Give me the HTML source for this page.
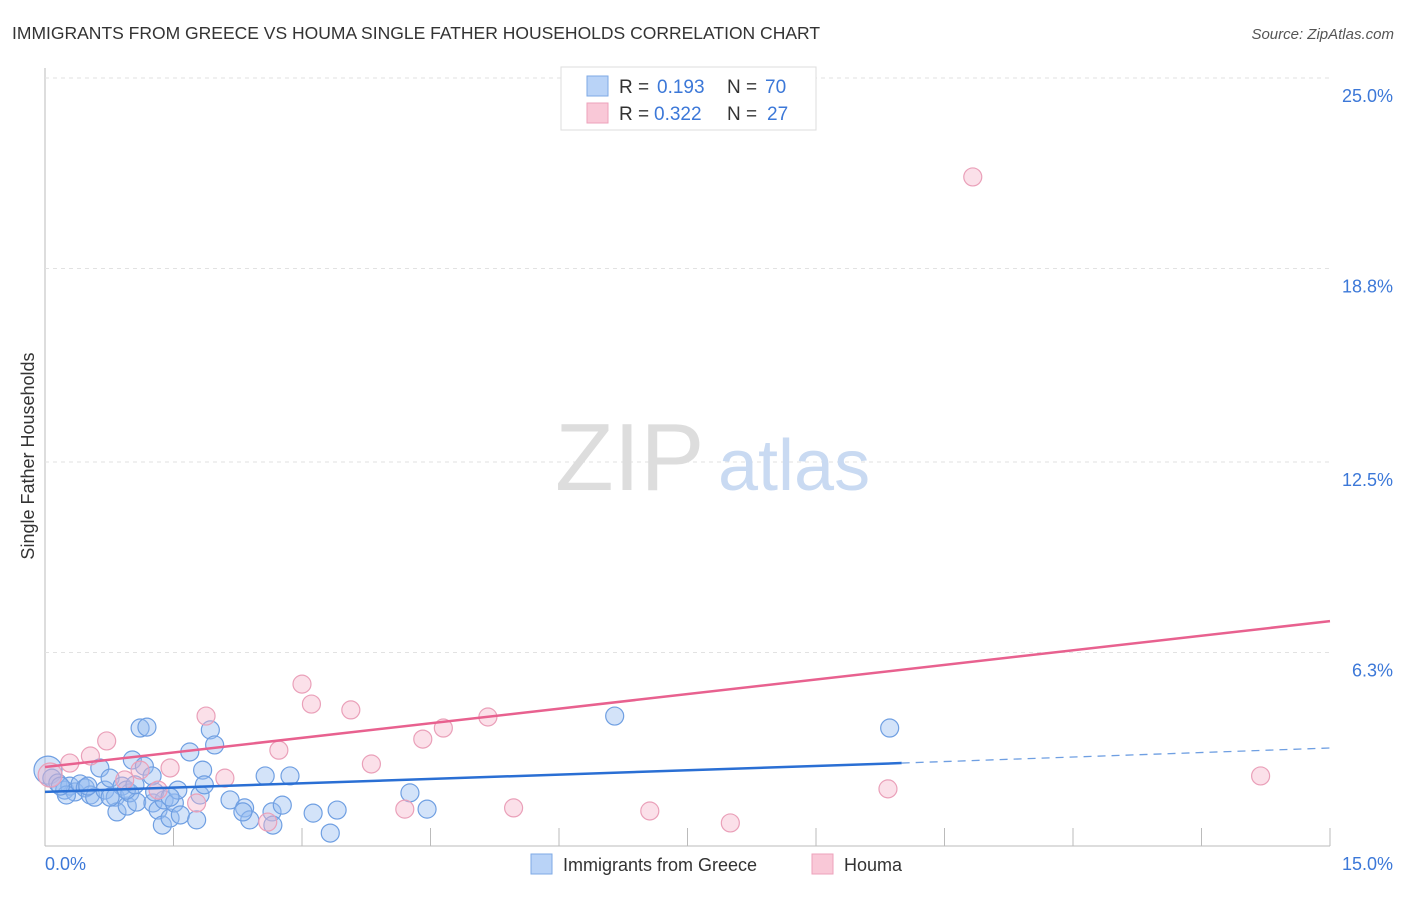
<!DOCTYPE html>
<html><head><meta charset="utf-8"><style>
body{margin:0;background:#fff;font-family:"Liberation Sans",sans-serif;}
svg text{font-family:"Liberation Sans",sans-serif;}
</style></head><body>
<svg width="1406" height="892" viewBox="0 0 1406 892">
<text x="12" y="39" font-size="17.5" fill="#333">IMMIGRANTS FROM GREECE VS HOUMA SINGLE FATHER HOUSEHOLDS CORRELATION CHART</text>
<text x="1394" y="39" font-size="15" fill="#555" font-style="italic" text-anchor="end">Source: ZipAtlas.com</text>
<g id="grid"></g>
<text x="555" y="490" font-size="96" font-family="Liberation Serif" fill="#ddd">ZIP</text>
<text x="718" y="490" font-size="72" fill="#c9daf2">atlas</text>
<text transform="translate(34,456) rotate(-90)" font-size="18" fill="#333" text-anchor="middle">Single Father Households</text>
<g id="lines"></g>
<g id="points"></g>
<g>
<rect x="561" y="67" width="255" height="63" fill="#fff" stroke="#ddd"/>
<rect x="587" y="76" width="21" height="20" fill="#b9d3f7" stroke="#7ea9e6"/>
<text x="619" y="93" font-size="19" fill="#333">R = </text><text x="657" y="93" font-size="19" fill="#3c78d8">0.193</text>
<text x="727" y="93" font-size="19" fill="#333">N = </text><text x="765" y="93" font-size="19" fill="#3c78d8">70</text>
<rect x="587" y="103" width="21" height="20" fill="#f9c8d7" stroke="#eda2bb"/>
<text x="619" y="120" font-size="19" fill="#333">R = </text><text x="654" y="120" font-size="19" fill="#3c78d8">0.322</text>
<text x="727" y="120" font-size="19" fill="#333">N = </text><text x="767" y="120" font-size="19" fill="#3c78d8">27</text>
</g>
<g>
<rect x="531" y="854" width="21" height="20" fill="#b9d3f7" stroke="#7ea9e6"/>
<text x="563" y="871" font-size="18" fill="#333">Immigrants from Greece</text>
<rect x="812" y="854" width="21" height="20" fill="#f9c8d7" stroke="#eda2bb"/>
<text x="844" y="871" font-size="18" fill="#333">Houma</text>
</g>
</svg>
<script>
const yTicks=[25.0,18.8,12.5,6.3];
const yTickLabels=["25.0%","18.8%","12.5%","6.3%"];
const xEndLabels=["0.0%","15.0%"];
const blueX=[0.035,0.08,0.15,0.23,0.29,0.35,0.41,0.47,0.53,0.58,0.64,0.70,0.76,0.82,0.84,0.90,0.96,0.99,1.02,1.07,1.11,1.19,1.16,1.25,1.26,1.32,1.37,1.39,1.46,1.51,1.55,1.58,1.69,1.77,1.81,1.84,1.86,1.93,1.98,2.16,2.33,2.39,2.57,2.65,2.66,2.77,2.86,3.13,3.33,3.41,4.26,4.46,6.65,9.86,1.28,0.50,0.25,0.18,0.95,1.05,0.76,2.31,1.46];
const blueY=[2.47,2.21,2.05,1.82,1.95,1.76,2.02,1.89,1.66,1.59,2.54,1.82,2.21,1.59,1.11,1.95,1.30,1.73,2.80,1.43,3.84,3.87,2.60,2.28,1.40,1.17,0.68,1.50,0.91,1.40,1.82,1.01,3.06,0.85,1.66,2.47,1.99,3.78,3.29,1.50,1.24,0.85,2.28,1.11,0.68,1.33,2.28,1.07,0.42,1.17,1.73,1.20,4.23,3.84,1.76,1.95,1.66,1.95,1.82,1.99,1.59,1.11,1.59];
const pinkX=[0.06,0.29,0.53,0.72,0.93,1.11,1.32,1.46,1.77,1.88,2.10,2.60,2.73,3.00,3.11,3.57,3.81,4.20,4.41,4.65,5.17,5.47,7.06,8.00,9.84,10.83,14.19];
const pinkY=[2.31,2.70,2.93,3.42,2.15,2.47,1.82,2.54,1.40,4.23,2.21,0.78,3.12,5.27,4.62,4.43,2.67,1.20,3.48,3.84,4.20,1.24,1.14,0.75,1.86,21.78,2.28];
const blueTrend=[1.76,2.70,3.19]; // at x=0, 10, 15
const blueTrendX=[0,10,15];
const pinkTrend=[2.57,7.32];
const pinkTrendX=[0,15];
const X0=45,X1=1330,Y0=846,PXY=30.72;
const sx=v=>X0+(v/15)*(X1-X0);
const sy=v=>Y0-v*PXY;
const NS="http://www.w3.org/2000/svg";
function mk(tag,attrs,parent){const e=document.createElementNS(NS,tag);for(const k in attrs)e.setAttribute(k,attrs[k]);parent.appendChild(e);return e;}
const svg=document.querySelector('svg');
const grid=document.getElementById('grid');
const ax=mk('line',{x1:X0,y1:68,x2:X0,y2:Y0,stroke:'#bbb'},grid);


const bx=mk('line',{x1:X0,y1:Y0,x2:X1,y2:Y0,stroke:'#bbb'},grid);


yTicks.forEach((t,i)=>{
  const g=mk('line',{x1:X0,y1:sy(t),x2:X1,y2:sy(t),stroke:'#e2e2e2','stroke-dasharray':'4,4'},grid);
  
  
  const l=mk('text',{x:1393,y:sy(t)+24,'font-size':18,fill:'#3c78d8','text-anchor':'end'},grid);
  l.textContent=yTickLabels[i];
  
  
});
for(let i=1;i<=10;i++){
  const t=mk('line',{x1:sx(i*1.5),y1:Y0-18,x2:sx(i*1.5),y2:Y0,stroke:'#bbb'},grid);
  
  
}
const xl0=mk('text',{x:45,y:870,'font-size':18,fill:'#3c78d8'},grid);
xl0.textContent=xEndLabels[0];


const xl1=mk('text',{x:1393,y:870,'font-size':18,fill:'#3c78d8','text-anchor':'end'},grid);
xl1.textContent=xEndLabels[1];


const pts=document.getElementById('points');
blueX.forEach((x,i)=>{
  const c=mk('circle',{cx:sx(x),cy:sy(blueY[i]),r:i===0?14:9,fill:'rgba(150,188,240,0.42)',stroke:'#6f9fe2','stroke-width':1.2},pts);
  
  
});
pinkX.forEach((x,i)=>{
  const c=mk('circle',{cx:sx(x),cy:sy(pinkY[i]),r:i===0?12:9,fill:'rgba(246,180,202,0.42)',stroke:'#eaa0b9','stroke-width':1.2},pts);
  
  
});
const ln=document.getElementById('lines');
const pl=mk('line',{x1:sx(pinkTrendX[0]),y1:sy(pinkTrend[0]),x2:sx(pinkTrendX[1]),y2:sy(pinkTrend[1]),stroke:'#e8618f','stroke-width':2.5},svg);


const bl=mk('line',{x1:sx(blueTrendX[0]),y1:sy(blueTrend[0]),x2:sx(blueTrendX[1]),y2:sy(blueTrend[1]),stroke:'#2a6fd4','stroke-width':2.5},svg);


const bd=mk('line',{x1:sx(blueTrendX[1]),y1:sy(blueTrend[1]),x2:sx(blueTrendX[2]),y2:sy(blueTrend[2]),stroke:'#6f9fe2','stroke-width':1.3,'stroke-dasharray':'8,6'},svg);


</script>
</body></html>
